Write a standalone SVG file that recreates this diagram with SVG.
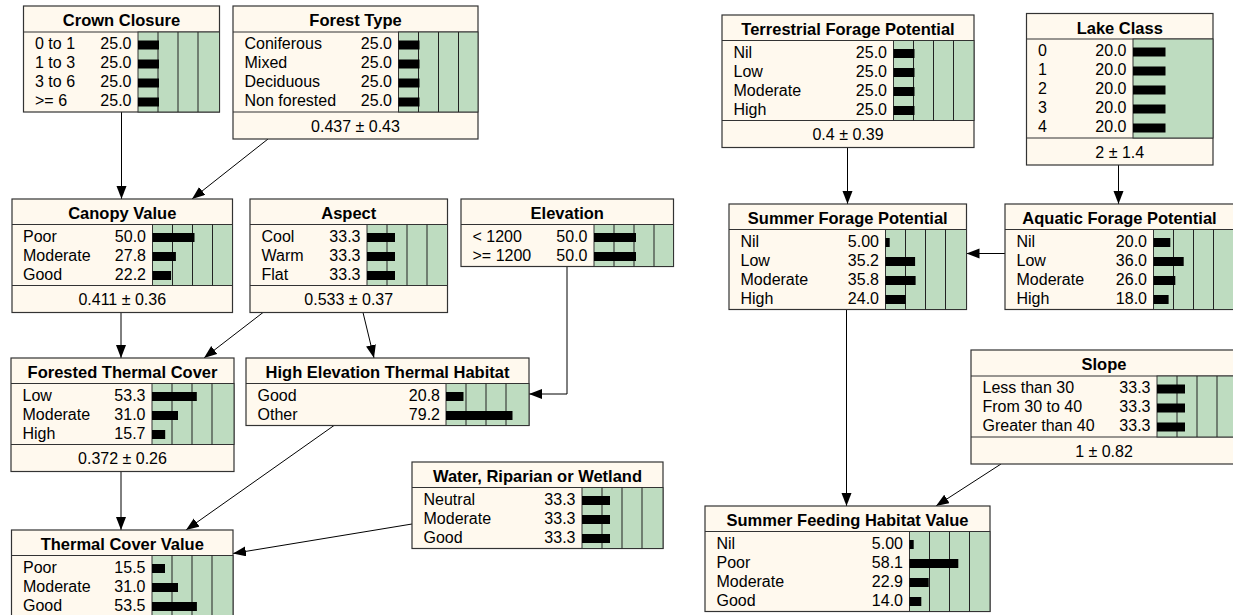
<svg xmlns="http://www.w3.org/2000/svg" width="1233" height="615" viewBox="0 0 1233 615">
<defs>
<marker id="ah" markerUnits="userSpaceOnUse" markerWidth="14" markerHeight="11" refX="13" refY="5" orient="auto">
<path d="M0,0 L13,5 L0,10 z" fill="#000"/>
</marker>
<style>
.box{fill:#FFF9EE;stroke:#333;stroke-width:1.2}
.sep{stroke:#333;stroke-width:1.2}
.chart{fill:#BEDCC0;stroke:#333;stroke-width:1}
.grid{stroke:#222;stroke-width:1}
.bar{fill:#000}
.t{font-family:"Liberation Sans",Arial,sans-serif;font-size:16.5px;font-weight:bold;text-anchor:middle;fill:#000}
.l{font-family:"Liberation Sans",Arial,sans-serif;font-size:16px;fill:#000}
.n{font-family:"Liberation Sans",Arial,sans-serif;font-size:16px;text-anchor:end;fill:#000}
.m{font-family:"Liberation Sans",Arial,sans-serif;font-size:16px;text-anchor:middle;fill:#000}
.c{fill:none;stroke:#000;stroke-width:1;marker-end:url(#ah)}
</style>
</defs>
<rect width="1233" height="615" fill="#fff"/>

<g id="connectors">
<line class="c" x1="121.5" y1="112" x2="121.5" y2="199"/>
<line class="c" x1="268" y1="139" x2="192" y2="199"/>
<line class="c" x1="121" y1="312.5" x2="121" y2="358"/>
<line class="c" x1="263" y1="312.5" x2="204" y2="358"/>
<line class="c" x1="363" y1="312.5" x2="374" y2="358"/>
<polyline class="c" points="567,266.5 567,394 529,394"/>
<line class="c" x1="121" y1="471.5" x2="121" y2="530"/>
<line class="c" x1="334" y1="425.5" x2="186" y2="530"/>
<line class="c" x1="412" y1="524" x2="233" y2="553.5"/>
<line class="c" x1="847.5" y1="147.5" x2="847.5" y2="204"/>
<line class="c" x1="1118.5" y1="165" x2="1118.5" y2="204"/>
<line class="c" x1="1005" y1="253.5" x2="966.5" y2="253.5"/>
<line class="c" x1="846.5" y1="309.5" x2="846.5" y2="506"/>
<line class="c" x1="1001" y1="464" x2="936" y2="506"/>
</g>

<g id="crown-closure">
<rect class="box" x="23.5" y="6" width="196" height="106"/>
<line class="sep" x1="23.5" y1="32" x2="219.5" y2="32"/>
<rect class="chart" x="138" y="32" width="81.5" height="80"/>
<path class="grid" d="M158,32V112M178,32V112M198,32V112"/>
<text class="t" x="121.5" y="26">Crown Closure</text>
<text class="l" x="35" y="49">0 to 1</text><text class="n" x="131.5" y="49">25.0</text><rect class="bar" x="138" y="40.5" width="21" height="9"/>
<text class="l" x="35" y="68">1 to 3</text><text class="n" x="131.5" y="68">25.0</text><rect class="bar" x="138" y="59.5" width="21" height="9"/>
<text class="l" x="35" y="87">3 to 6</text><text class="n" x="131.5" y="87">25.0</text><rect class="bar" x="138" y="78.5" width="21" height="9"/>
<text class="l" x="35" y="106">&gt;= 6</text><text class="n" x="131.5" y="106">25.0</text><rect class="bar" x="138" y="97.5" width="21" height="9"/>
</g>

<g id="forest-type">
<rect class="box" x="233" y="6" width="245" height="133"/>
<line class="sep" x1="233" y1="32" x2="478" y2="32"/>
<line class="sep" x1="233" y1="112" x2="478" y2="112"/>
<rect class="chart" x="398.5" y="32" width="79.5" height="80"/>
<path class="grid" d="M418.5,32V112M438.5,32V112M458.5,32V112"/>
<text class="t" x="355.5" y="26">Forest Type</text>
<text class="l" x="244.5" y="49">Coniferous</text><text class="n" x="392" y="49">25.0</text><rect class="bar" x="398.5" y="40.5" width="21" height="9"/>
<text class="l" x="244.5" y="68">Mixed</text><text class="n" x="392" y="68">25.0</text><rect class="bar" x="398.5" y="59.5" width="21" height="9"/>
<text class="l" x="244.5" y="87">Deciduous</text><text class="n" x="392" y="87">25.0</text><rect class="bar" x="398.5" y="78.5" width="21" height="9"/>
<text class="l" x="244.5" y="106">Non forested</text><text class="n" x="392" y="106">25.0</text><rect class="bar" x="398.5" y="97.5" width="21" height="9"/>
<text class="m" x="355.5" y="131.5">0.437 ± 0.43</text>
</g>

<g id="canopy-value">
<rect class="box" x="12" y="199" width="220.5" height="113.5"/>
<line class="sep" x1="12" y1="224.5" x2="232.5" y2="224.5"/>
<line class="sep" x1="12" y1="285.5" x2="232.5" y2="285.5"/>
<rect class="chart" x="152.5" y="224.5" width="80" height="61"/>
<path class="grid" d="M172.5,224.5V285.5M192.5,224.5V285.5M212.5,224.5V285.5"/>
<text class="t" x="122.25" y="219">Canopy Value</text>
<text class="l" x="23" y="241.5">Poor</text><text class="n" x="146" y="241.5">50.0</text><rect class="bar" x="152.5" y="233" width="42" height="9"/>
<text class="l" x="23" y="260.5">Moderate</text><text class="n" x="146" y="260.5">27.8</text><rect class="bar" x="152.5" y="252" width="23.4" height="9"/>
<text class="l" x="23" y="279.5">Good</text><text class="n" x="146" y="279.5">22.2</text><rect class="bar" x="152.5" y="271" width="18.6" height="9"/>
<text class="m" x="122.25" y="305">0.411 ± 0.36</text>
</g>

<g id="aspect">
<rect class="box" x="250" y="199" width="197.5" height="113.5"/>
<line class="sep" x1="250" y1="224.5" x2="447.5" y2="224.5"/>
<line class="sep" x1="250" y1="285.5" x2="447.5" y2="285.5"/>
<rect class="chart" x="367" y="224.5" width="80.5" height="61"/>
<path class="grid" d="M387,224.5V285.5M407,224.5V285.5M427,224.5V285.5"/>
<text class="t" x="348.75" y="219">Aspect</text>
<text class="l" x="261.5" y="241.5">Cool</text><text class="n" x="360.5" y="241.5">33.3</text><rect class="bar" x="367" y="233" width="28" height="9"/>
<text class="l" x="261.5" y="260.5">Warm</text><text class="n" x="360.5" y="260.5">33.3</text><rect class="bar" x="367" y="252" width="28" height="9"/>
<text class="l" x="261.5" y="279.5">Flat</text><text class="n" x="360.5" y="279.5">33.3</text><rect class="bar" x="367" y="271" width="28" height="9"/>
<text class="m" x="348.75" y="305">0.533 ± 0.37</text>
</g>

<g id="elevation">
<rect class="box" x="461" y="199" width="212.5" height="67.5"/>
<line class="sep" x1="461" y1="224.5" x2="673.5" y2="224.5"/>
<rect class="chart" x="594" y="224.5" width="79.5" height="42"/>
<path class="grid" d="M614,224.5V266.5M634,224.5V266.5M654,224.5V266.5"/>
<text class="t" x="567.25" y="219">Elevation</text>
<text class="l" x="472.5" y="241.5">&lt; 1200</text><text class="n" x="587.5" y="241.5">50.0</text><rect class="bar" x="594" y="233" width="42" height="9"/>
<text class="l" x="472.5" y="260.5">&gt;= 1200</text><text class="n" x="587.5" y="260.5">50.0</text><rect class="bar" x="594" y="252" width="42" height="9"/>
</g>

<g id="forested-thermal-cover">
<rect class="box" x="11" y="358" width="223" height="113.5"/>
<line class="sep" x1="11" y1="383.5" x2="234" y2="383.5"/>
<line class="sep" x1="11" y1="444.5" x2="234" y2="444.5"/>
<rect class="chart" x="152" y="383.5" width="82" height="61"/>
<path class="grid" d="M172,383.5V444.5M192,383.5V444.5M212,383.5V444.5"/>
<text class="t" x="122.5" y="378">Forested Thermal Cover</text>
<text class="l" x="22.5" y="400.5">Low</text><text class="n" x="145.5" y="400.5">53.3</text><rect class="bar" x="152" y="392" width="44.8" height="9"/>
<text class="l" x="22.5" y="419.5">Moderate</text><text class="n" x="145.5" y="419.5">31.0</text><rect class="bar" x="152" y="411" width="26" height="9"/>
<text class="l" x="22.5" y="438.5">High</text><text class="n" x="145.5" y="438.5">15.7</text><rect class="bar" x="152" y="430" width="13.2" height="9"/>
<text class="m" x="122.5" y="464">0.372 ± 0.26</text>
</g>

<g id="high-elevation-thermal-habitat">
<rect class="box" x="246" y="358" width="283" height="67.5"/>
<line class="sep" x1="246" y1="383.5" x2="529" y2="383.5"/>
<rect class="chart" x="446" y="383.5" width="83" height="42"/>
<path class="grid" d="M466,383.5V425.5M486,383.5V425.5M506,383.5V425.5"/>
<text class="t" x="387.5" y="378">High Elevation Thermal Habitat</text>
<text class="l" x="257.5" y="400.5">Good</text><text class="n" x="440" y="400.5">20.8</text><rect class="bar" x="446" y="392" width="17.5" height="9"/>
<text class="l" x="257.5" y="419.5">Other</text><text class="n" x="440" y="419.5">79.2</text><rect class="bar" x="446" y="411" width="66.5" height="9"/>
</g>

<g id="thermal-cover-value">
<rect class="box" x="11.5" y="530" width="221.5" height="110"/>
<line class="sep" x1="11.5" y1="555.5" x2="233" y2="555.5"/>
<rect class="chart" x="152" y="555.5" width="81" height="61"/>
<path class="grid" d="M172,555.5V616.5M192,555.5V616.5M212,555.5V616.5"/>
<text class="t" x="122.25" y="550">Thermal Cover Value</text>
<text class="l" x="23" y="572.5">Poor</text><text class="n" x="145.5" y="572.5">15.5</text><rect class="bar" x="152" y="564" width="13" height="9"/>
<text class="l" x="23" y="591.5">Moderate</text><text class="n" x="145.5" y="591.5">31.0</text><rect class="bar" x="152" y="583" width="26" height="9"/>
<text class="l" x="23" y="610.5">Good</text><text class="n" x="145.5" y="610.5">53.5</text><rect class="bar" x="152" y="602" width="44.9" height="9"/>
</g>

<g id="water-riparian-wetland">
<rect class="box" x="412" y="462" width="251" height="86.5"/>
<line class="sep" x1="412" y1="487.5" x2="663" y2="487.5"/>
<rect class="chart" x="582" y="487.5" width="81" height="61"/>
<path class="grid" d="M602,487.5V548.5M622,487.5V548.5M642,487.5V548.5"/>
<text class="t" x="537.5" y="482">Water, Riparian or Wetland</text>
<text class="l" x="423.5" y="504.5">Neutral</text><text class="n" x="575.5" y="504.5">33.3</text><rect class="bar" x="582" y="496" width="28" height="9"/>
<text class="l" x="423.5" y="523.5">Moderate</text><text class="n" x="575.5" y="523.5">33.3</text><rect class="bar" x="582" y="515" width="28" height="9"/>
<text class="l" x="423.5" y="542.5">Good</text><text class="n" x="575.5" y="542.5">33.3</text><rect class="bar" x="582" y="534" width="28" height="9"/>
</g>

<g id="terrestrial-forage-potential">
<rect class="box" x="722" y="15" width="252" height="132.5"/>
<line class="sep" x1="722" y1="40.5" x2="974" y2="40.5"/>
<line class="sep" x1="722" y1="120.5" x2="974" y2="120.5"/>
<rect class="chart" x="893.5" y="40.5" width="80.5" height="80"/>
<path class="grid" d="M913.5,40.5V120.5M933.5,40.5V120.5M953.5,40.5V120.5"/>
<text class="t" x="848" y="35">Terrestrial Forage Potential</text>
<text class="l" x="733.5" y="57.5">Nil</text><text class="n" x="887" y="57.5">25.0</text><rect class="bar" x="893.5" y="49" width="21" height="9"/>
<text class="l" x="733.5" y="76.5">Low</text><text class="n" x="887" y="76.5">25.0</text><rect class="bar" x="893.5" y="68" width="21" height="9"/>
<text class="l" x="733.5" y="95.5">Moderate</text><text class="n" x="887" y="95.5">25.0</text><rect class="bar" x="893.5" y="87" width="21" height="9"/>
<text class="l" x="733.5" y="114.5">High</text><text class="n" x="887" y="114.5">25.0</text><rect class="bar" x="893.5" y="106" width="21" height="9"/>
<text class="m" x="848" y="140">0.4 ± 0.39</text>
</g>

<g id="lake-class">
<rect class="box" x="1026.5" y="13.5" width="186.5" height="151.5"/>
<line class="sep" x1="1026.5" y1="39" x2="1213" y2="39"/>
<line class="sep" x1="1026.5" y1="138" x2="1213" y2="138"/>
<rect class="chart" x="1133" y="39" width="80" height="99"/>
<text class="t" x="1119.75" y="33.5">Lake Class</text>
<text class="l" x="1038" y="56">0</text><text class="n" x="1126.5" y="56">20.0</text><rect class="bar" x="1133" y="47.5" width="32.5" height="9"/>
<text class="l" x="1038" y="75">1</text><text class="n" x="1126.5" y="75">20.0</text><rect class="bar" x="1133" y="66.5" width="32.5" height="9"/>
<text class="l" x="1038" y="94">2</text><text class="n" x="1126.5" y="94">20.0</text><rect class="bar" x="1133" y="85.5" width="32.5" height="9"/>
<text class="l" x="1038" y="113">3</text><text class="n" x="1126.5" y="113">20.0</text><rect class="bar" x="1133" y="104.5" width="32.5" height="9"/>
<text class="l" x="1038" y="132">4</text><text class="n" x="1126.5" y="132">20.0</text><rect class="bar" x="1133" y="123.5" width="32.5" height="9"/>
<text class="m" x="1119.75" y="157.5">2 ± 1.4</text>
</g>

<g id="summer-forage-potential">
<rect class="box" x="729" y="204" width="237.5" height="105.5"/>
<line class="sep" x1="729" y1="229.5" x2="966.5" y2="229.5"/>
<rect class="chart" x="885.5" y="229.5" width="81" height="80"/>
<path class="grid" d="M905.5,229.5V309.5M925.5,229.5V309.5M945.5,229.5V309.5"/>
<text class="t" x="847.75" y="224">Summer Forage Potential</text>
<text class="l" x="740.5" y="246.5">Nil</text><text class="n" x="879" y="246.5">5.00</text><rect class="bar" x="885.5" y="238" width="4.2" height="9"/>
<text class="l" x="740.5" y="265.5">Low</text><text class="n" x="879" y="265.5">35.2</text><rect class="bar" x="885.5" y="257" width="29.6" height="9"/>
<text class="l" x="740.5" y="284.5">Moderate</text><text class="n" x="879" y="284.5">35.8</text><rect class="bar" x="885.5" y="276" width="30.1" height="9"/>
<text class="l" x="740.5" y="303.5">High</text><text class="n" x="879" y="303.5">24.0</text><rect class="bar" x="885.5" y="295" width="20.2" height="9"/>
</g>

<g id="aquatic-forage-potential">
<rect class="box" x="1005" y="204" width="229" height="105.5"/>
<line class="sep" x1="1005" y1="229.5" x2="1234" y2="229.5"/>
<rect class="chart" x="1153.5" y="229.5" width="80.5" height="80"/>
<path class="grid" d="M1173.5,229.5V309.5M1193.5,229.5V309.5M1213.5,229.5V309.5"/>
<text class="t" x="1119.5" y="224">Aquatic Forage Potential</text>
<text class="l" x="1016.5" y="246.5">Nil</text><text class="n" x="1147" y="246.5">20.0</text><rect class="bar" x="1153.5" y="238" width="16.8" height="9"/>
<text class="l" x="1016.5" y="265.5">Low</text><text class="n" x="1147" y="265.5">36.0</text><rect class="bar" x="1153.5" y="257" width="30.2" height="9"/>
<text class="l" x="1016.5" y="284.5">Moderate</text><text class="n" x="1147" y="284.5">26.0</text><rect class="bar" x="1153.5" y="276" width="21.8" height="9"/>
<text class="l" x="1016.5" y="303.5">High</text><text class="n" x="1147" y="303.5">18.0</text><rect class="bar" x="1153.5" y="295" width="15.1" height="9"/>
</g>

<g id="slope">
<rect class="box" x="971" y="350" width="266" height="114"/>
<line class="sep" x1="971" y1="376" x2="1237" y2="376"/>
<line class="sep" x1="971" y1="437" x2="1237" y2="437"/>
<rect class="chart" x="1157" y="376" width="80" height="61"/>
<path class="grid" d="M1177,376V437M1197,376V437M1217,376V437"/>
<text class="t" x="1104" y="370">Slope</text>
<text class="l" x="982.5" y="393">Less than 30</text><text class="n" x="1150.5" y="393">33.3</text><rect class="bar" x="1157" y="384.5" width="28" height="9"/>
<text class="l" x="982.5" y="412">From 30 to 40</text><text class="n" x="1150.5" y="412">33.3</text><rect class="bar" x="1157" y="403.5" width="28" height="9"/>
<text class="l" x="982.5" y="431">Greater than 40</text><text class="n" x="1150.5" y="431">33.3</text><rect class="bar" x="1157" y="422.5" width="28" height="9"/>
<text class="m" x="1104" y="456.5">1 ± 0.82</text>
</g>

<g id="summer-feeding-habitat-value">
<rect class="box" x="705" y="506" width="285" height="105.5"/>
<line class="sep" x1="705" y1="531.5" x2="990" y2="531.5"/>
<rect class="chart" x="909.5" y="531.5" width="80.5" height="80"/>
<path class="grid" d="M929.5,531.5V611.5M949.5,531.5V611.5M969.5,531.5V611.5"/>
<text class="t" x="847.5" y="526">Summer Feeding Habitat Value</text>
<text class="l" x="716.5" y="548.5">Nil</text><text class="n" x="903" y="548.5">5.00</text><rect class="bar" x="909.5" y="540" width="4.2" height="9"/>
<text class="l" x="716.5" y="567.5">Poor</text><text class="n" x="903" y="567.5">58.1</text><rect class="bar" x="909.5" y="559" width="48.8" height="9"/>
<text class="l" x="716.5" y="586.5">Moderate</text><text class="n" x="903" y="586.5">22.9</text><rect class="bar" x="909.5" y="578" width="19.2" height="9"/>
<text class="l" x="716.5" y="605.5">Good</text><text class="n" x="903" y="605.5">14.0</text><rect class="bar" x="909.5" y="597" width="11.8" height="9"/>
</g>
</svg>
